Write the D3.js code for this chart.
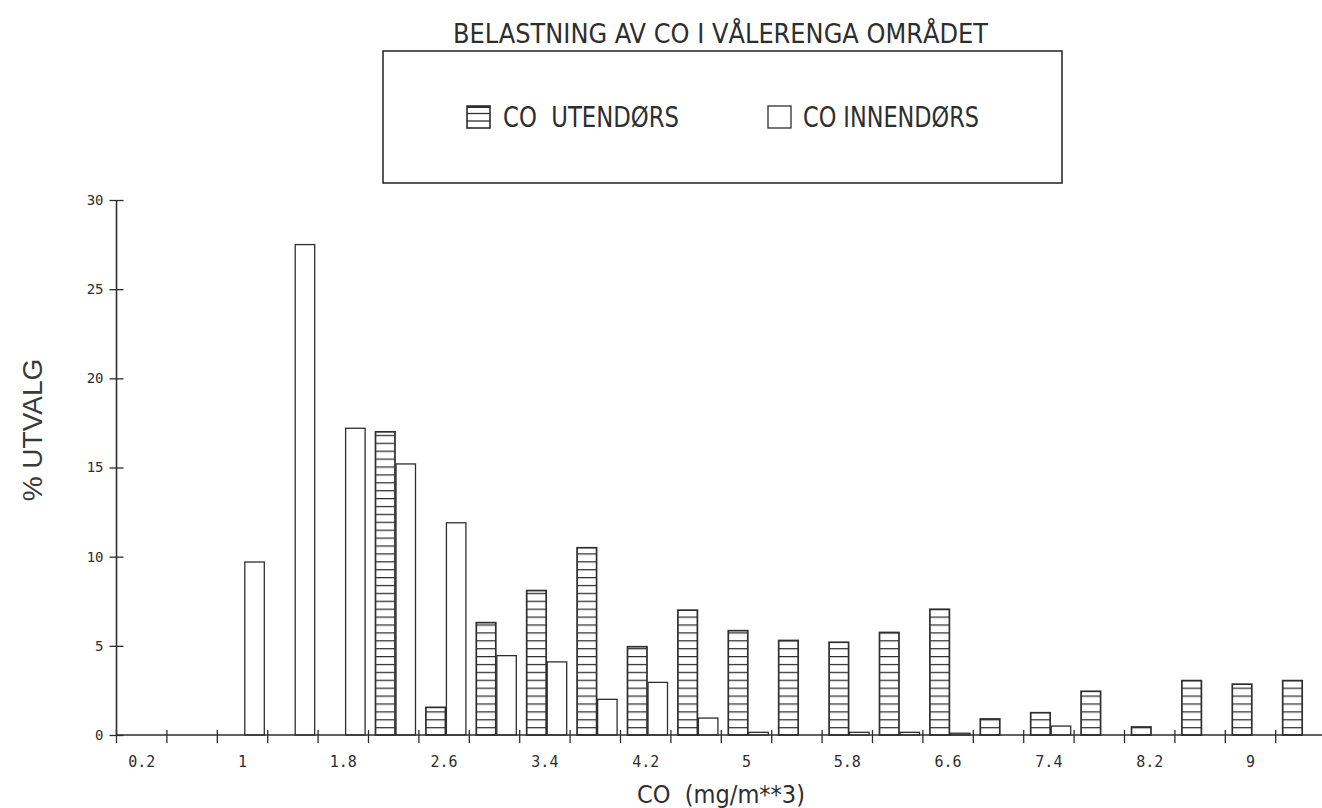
<!DOCTYPE html>
<html>
<head>
<meta charset="utf-8">
<script src="https://cdn.jsdelivr.net/npm/d3@7"></script>
<style>
  html, body { margin: 0; padding: 0; background: #ffffff; }
  svg { display: block; }
</style>
</head>
<body>
<script>
// ---- data ----
const bins = [0.2, 0.6, 1.0, 1.4, 1.8, 2.2, 2.6, 3.0, 3.4, 3.8, 4.2, 4.6, 5.0, 5.4, 5.8, 6.2, 6.6, 7.0, 7.4, 7.8, 8.2, 8.6, 9.0, 9.4];
const tickLabels = ["0.2", "1", "1.8", "2.6", "3.4", "4.2", "5", "5.8", "6.6", "7.4", "8.2", "9"];
const utendors  = [0, 0, 0, 0, 0, 17.0, 1.55, 6.3, 8.1, 10.5, 4.95, 7.0, 5.85, 5.3, 5.2, 5.75, 7.05, 0.9, 1.25, 2.45, 0.45, 3.05, 2.85, 3.05];
const innendors = [0, 0, 9.7, 27.5, 17.2, 15.2, 11.9, 4.45, 4.1, 2.0, 2.95, 0.95, 0.15, 0, 0.15, 0.15, 0.1, 0, 0.5, 0, 0, 0, 0, 0];
const yTicks = [0, 5, 10, 15, 20, 25, 30];
const seriesNames = ["CO  UTENDØRS", "CO INNENDØRS"];
const titleText = "BELASTNING AV CO I VÅLERENGA OMRÅDET";
const xTitle = "CO  (mg/m**3)";
const yTitle = "% UTVALG";

// ---- layout ----
const W = 1322, H = 808;
const x0 = 116.5, step = 50.4, y0 = 735, yTop = 200;
const ink = "#2e2e2e";
const plotFont = "'DejaVu Sans Condensed', 'DejaVu Sans', sans-serif";
const monoFont = "'DejaVu Sans Mono', monospace";

const svg = d3.select("body").append("svg").attr("width", W).attr("height", H);

const x = d3.scaleBand().domain(bins.map(String)).range([x0, x0 + step * bins.length]).paddingInner(0).paddingOuter(0);
const sub = d3.scaleBand().domain(["ut", "inn"]).range([7, 47]).paddingInner(0.05);
const y = d3.scaleLinear().domain([0, 30]).range([y0, yTop]);

// hatch pattern aligned to baseline
const hatchH = 7.9;
const defs = svg.append("defs");
const pat = defs.append("pattern").attr("id", "hatch")
  .attr("patternUnits", "userSpaceOnUse")
  .attr("width", 10).attr("height", hatchH)
  .attr("patternTransform", `translate(0,${y0 % hatchH})`);
pat.append("rect").attr("width", 10).attr("height", hatchH).attr("fill", "#fff");
pat.append("line").attr("x1", 0).attr("x2", 10).attr("y1", 0.6).attr("y2", 0.6)
  .attr("stroke", ink).attr("stroke-width", 1.3);

// ---- title ----
svg.append("text").attr("x", 453).attr("y", 43)
  .attr("font-family", plotFont).attr("font-size", 27).attr("fill", ink)
  .attr("textLength", 535).attr("lengthAdjust", "spacingAndGlyphs")
  .text(titleText);

// ---- legend ----
svg.append("rect").attr("x", 383).attr("y", 51).attr("width", 679).attr("height", 132)
  .attr("fill", "none").attr("stroke", ink).attr("stroke-width", 1.6);
const sw1 = svg.append("g");
sw1.append("rect").attr("x", 467).attr("y", 106).attr("width", 23).attr("height", 22)
  .attr("fill", "#fff").attr("stroke", ink).attr("stroke-width", 1.6);
[113.5, 121].forEach(v => sw1.append("line").attr("x1", 467).attr("x2", 490).attr("y1", v).attr("y2", v)
  .attr("stroke", ink).attr("stroke-width", 1.3));
sw1.append("line").attr("x1", 467).attr("x2", 490).attr("y1", 107).attr("y2", 107).attr("stroke", ink).attr("stroke-width", 2);
svg.append("rect").attr("x", 768).attr("y", 106).attr("width", 23).attr("height", 22)
  .attr("fill", "#fff").attr("stroke", ink).attr("stroke-width", 1.3);
svg.append("text").attr("x", 503).attr("y", 127)
  .attr("font-family", plotFont).attr("font-size", 29).attr("fill", ink)
  .attr("textLength", 176).attr("lengthAdjust", "spacingAndGlyphs")
  .style("white-space", "pre").text(seriesNames[0]);
svg.append("text").attr("x", 803).attr("y", 127)
  .attr("font-family", plotFont).attr("font-size", 29).attr("fill", ink)
  .attr("textLength", 176).attr("lengthAdjust", "spacingAndGlyphs")
  .text(seriesNames[1]);

// ---- bars ----
const rows = bins.map((b, i) => ({ bin: String(b), ut: utendors[i], inn: innendors[i] }));
const gBars = svg.append("g");
gBars.selectAll("rect.ut").data(rows.filter(d => d.ut > 0)).join("rect")
  .attr("class", "ut")
  .attr("x", d => x(d.bin) + sub("ut"))
  .attr("width", sub.bandwidth())
  .attr("y", d => y(d.ut))
  .attr("height", d => y0 - y(d.ut))
  .attr("fill", "url(#hatch)").attr("stroke", ink).attr("stroke-width", 1.7);
gBars.selectAll("rect.inn").data(rows.filter(d => d.inn > 0)).join("rect")
  .attr("class", "inn")
  .attr("x", d => x(d.bin) + sub("inn"))
  .attr("width", sub.bandwidth())
  .attr("y", d => y(d.inn))
  .attr("height", d => y0 - y(d.inn))
  .attr("fill", "#fff").attr("stroke", ink).attr("stroke-width", 1.3);

// ---- y axis ----
const yAxis = d3.axisLeft(y).tickValues(yTicks).tickSize(0).tickPadding(13);
const gy = svg.append("g").attr("transform", `translate(${x0},0)`).call(yAxis);
gy.select(".domain").remove();
gy.selectAll(".tick text").attr("font-family", monoFont).attr("font-size", 14).attr("fill", ink);
gy.selectAll(".tick").append("line").attr("x1", -7).attr("x2", 7).attr("stroke", ink).attr("stroke-width", 1.3);
svg.append("line").attr("x1", x0).attr("x2", x0).attr("y1", y(30)).attr("y2", y0)
  .attr("stroke", ink).attr("stroke-width", 1.6);

// ---- x axis ----
svg.append("line").attr("x1", x0).attr("x2", W).attr("y1", y0).attr("y2", y0)
  .attr("stroke", ink).attr("stroke-width", 1.6);
const gx = svg.append("g");
gx.selectAll("line").data(bins).join("line")
  .attr("x1", d => x(String(d))).attr("x2", d => x(String(d)))
  .attr("y1", y0 - 5).attr("y2", y0 + 8)
  .attr("stroke", ink).attr("stroke-width", 1.3);
const labelled = bins.filter((d, i) => i % 2 === 0);
gx.selectAll("text").data(labelled).join("text")
  .attr("x", d => x(String(d)) + x.bandwidth() / 2)
  .attr("y", 767)
  .attr("text-anchor", "middle")
  .attr("font-family", monoFont).attr("font-size", 15).attr("fill", ink)
  .text((d, i) => tickLabels[i]);

svg.append("text").attr("x", 637).attr("y", 803)
  .attr("font-family", plotFont).attr("font-size", 25).attr("fill", ink)
  .attr("textLength", 168).attr("lengthAdjust", "spacingAndGlyphs")
  .style("white-space", "pre").text(xTitle);

// ---- y title ----
svg.append("text")
  .attr("transform", "translate(42,430) rotate(-90)")
  .attr("text-anchor", "middle")
  .attr("font-family", "'Liberation Sans', Arial, sans-serif").attr("font-size", 28).attr("fill", "#3a3a3a")
  .text(yTitle);
</script>
</body>
</html>
